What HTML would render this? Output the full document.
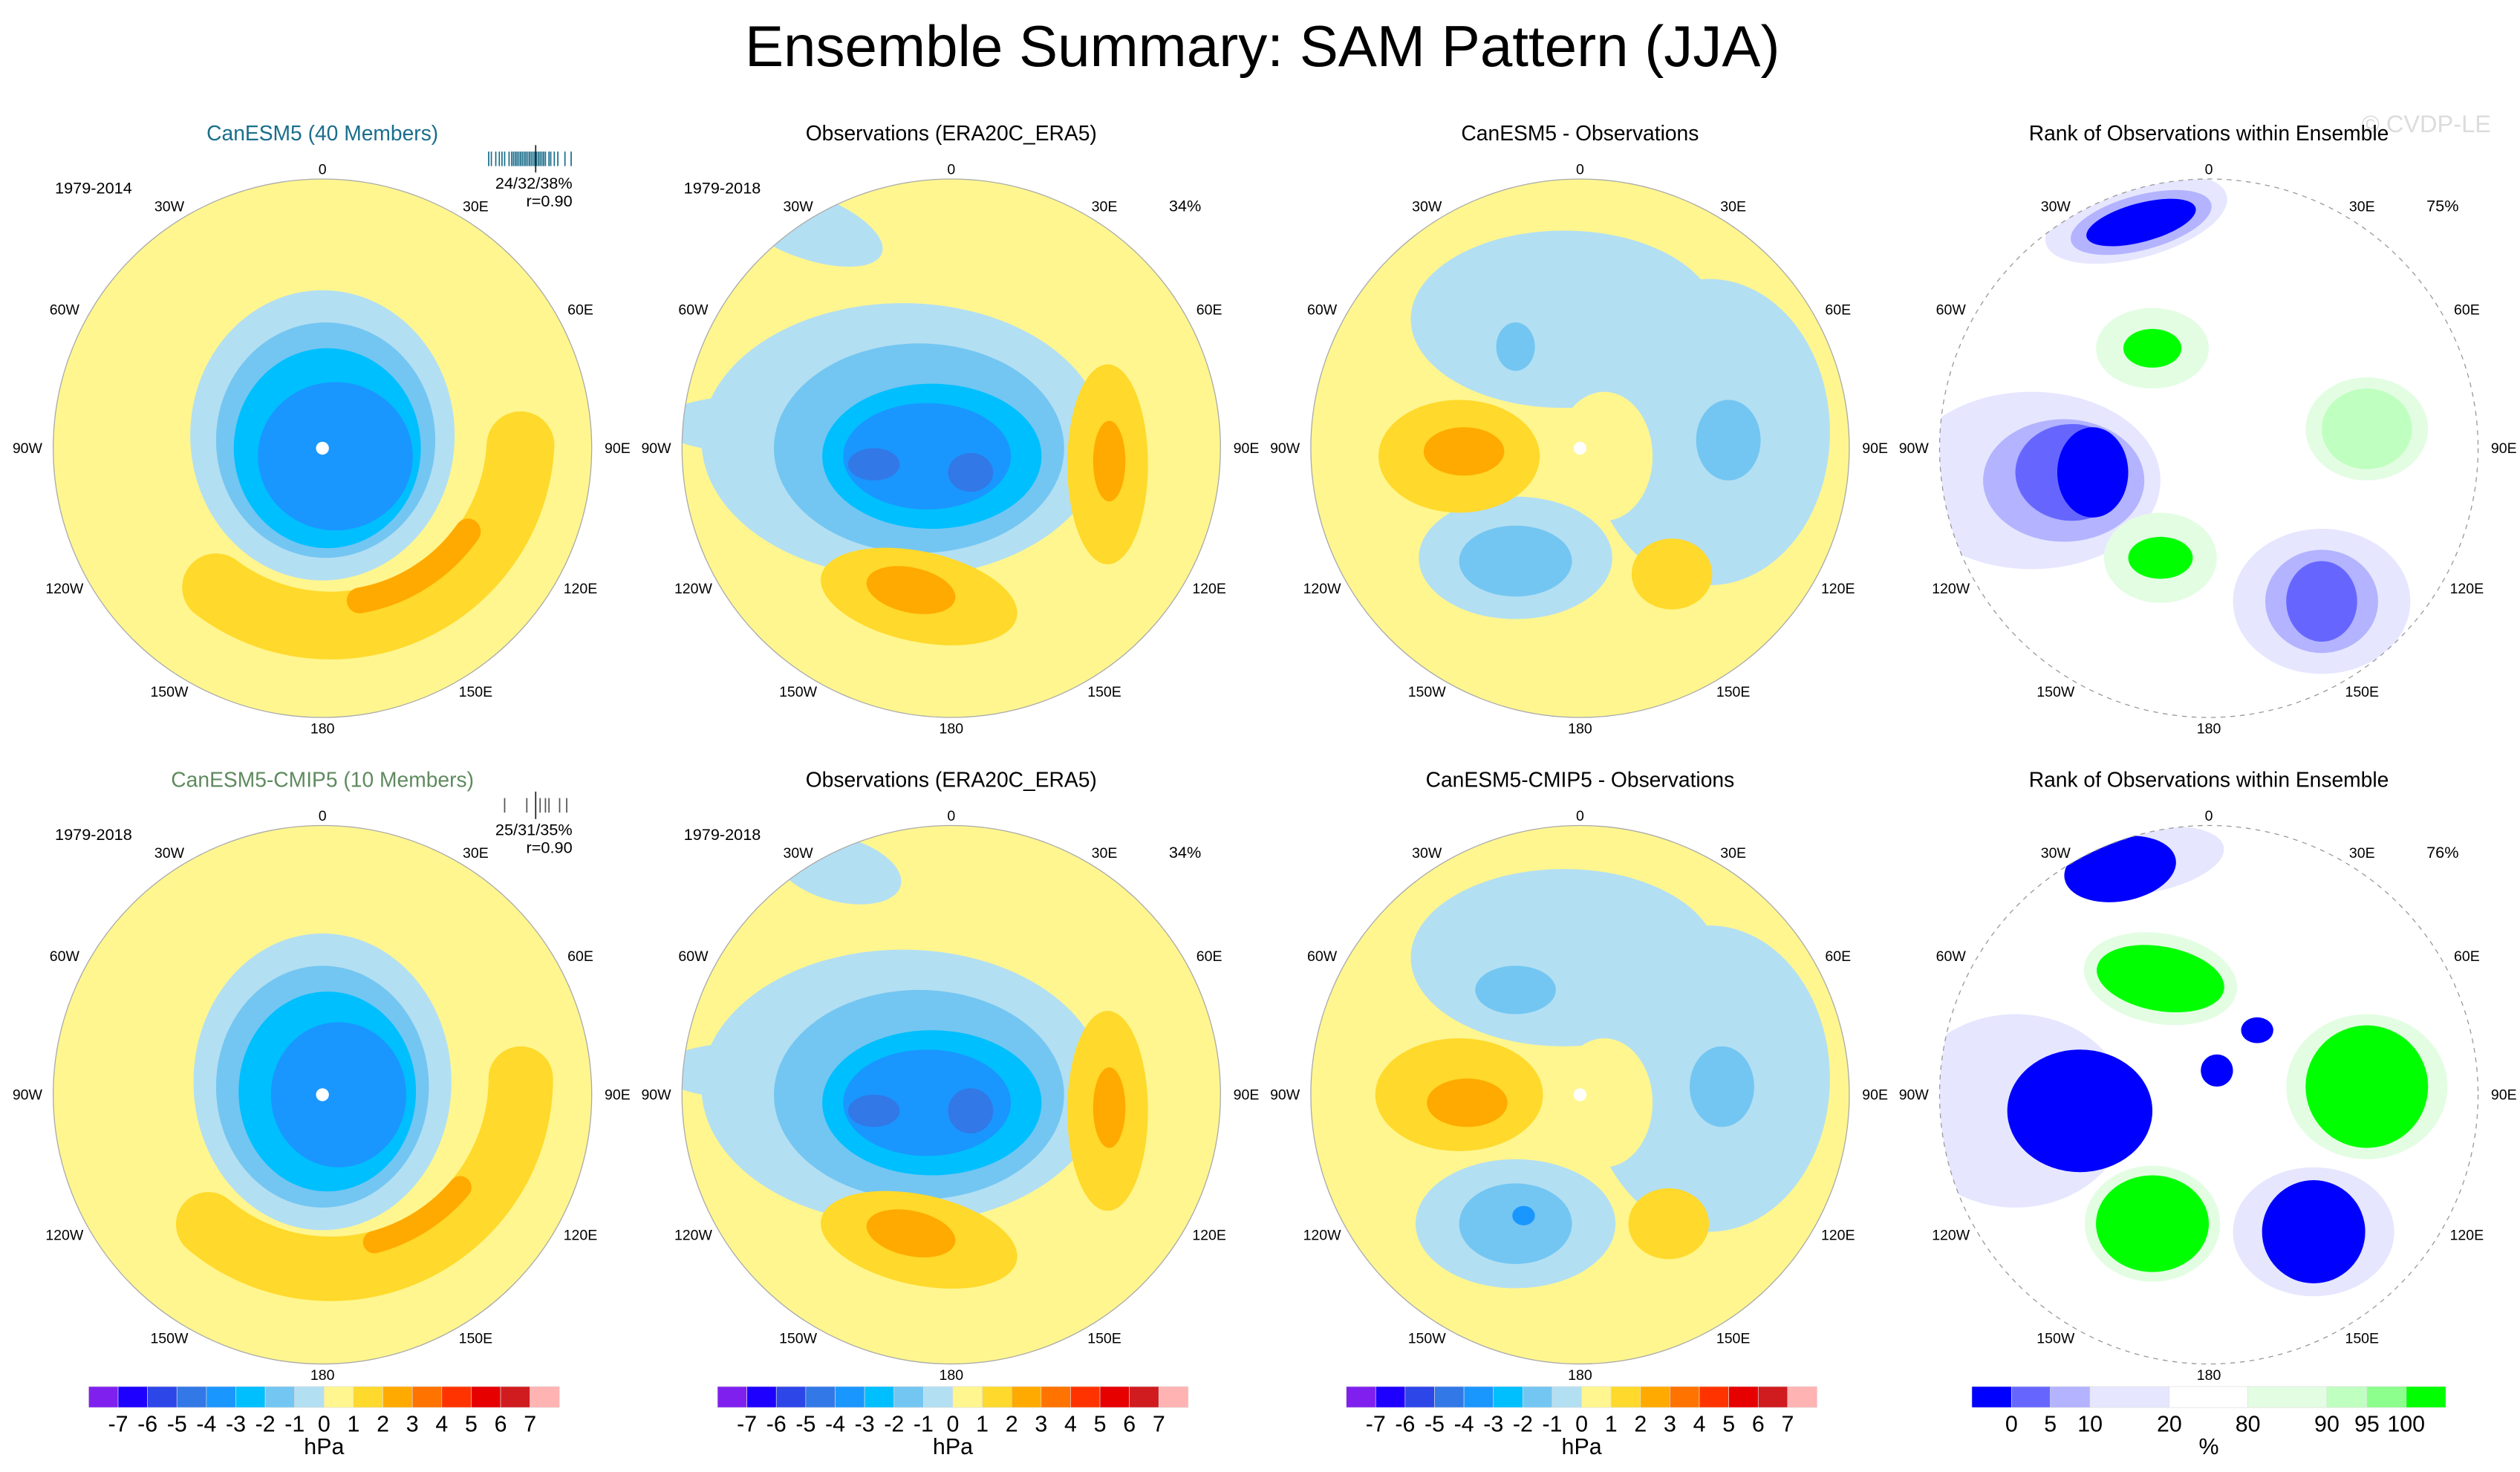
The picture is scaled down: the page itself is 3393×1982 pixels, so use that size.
<!DOCTYPE html>
<html><head><meta charset="utf-8"><style>
html,body{margin:0;padding:0;background:#fff}
svg{display:block}
text{font-family:"Liberation Sans",sans-serif}
</style></head><body>
<svg id="fig" xmlns="http://www.w3.org/2000/svg" width="3393" height="1982" viewBox="0 0 1563 913">
<text x="783" y="41" font-size="36" text-anchor="middle">Ensemble Summary: SAM Pattern (JJA)</text>
<text x="1545" y="82" font-size="15" text-anchor="end" fill="#dcdcdc">© CVDP-LE</text>
<g id="panels"></g>
<g id="bars"></g>
</svg>
<script>
const NS="http://www.w3.org/2000/svg";
const panelCenters=[[200,278],[590,278],[980,278],[1370,278],[200,679],[590,679],[980,679],[1370,679]];
const panelTitles=["CanESM5 (40 Members)","Observations (ERA20C_ERA5)","CanESM5 - Observations","Rank of Observations within Ensemble","CanESM5-CMIP5 (10 Members)","Observations (ERA20C_ERA5)","CanESM5-CMIP5 - Observations","Rank of Observations within Ensemble"];
const titleColors=["#1a6e8c","#000","#000","#000","#5f8a5f","#000","#000","#000"];
const periodLabels=["1979-2014","1979-2018","","","1979-2018","1979-2018","",""];
const pctLabels=["","34%","","75%","","34%","","76%"];
const lonLabels=["0","30E","60E","90E","120E","150E","180","150W","120W","90W","60W","30W"];
const lonOffX=[0,95,160,183,160,95,0,-95,-160,-183,-160,-95];
const lonOffY=[-173,-150,-86,0,87,151,174,151,87,0,-86,-150];
const hpaColors=["#8020ef","#1e00ff","#2d46e8","#3278e6","#1a96ff","#00bfff","#73c6f1","#b3dff3","#fff68f","#ffd92b","#ffaa00","#ff7300","#ff3300","#e60000","#d01c1f","#ffb3b3"];
const hpaTicks=["-7","-6","-5","-4","-3","-2","-1","0","1","2","3","4","5","6","7"];
const rankColors=["#0000ff","#6666ff","#b3b3ff","#e6e6ff","#ffffff","#e3fde3","#bfffbf","#8cff8c","#00ff00"];
const rankBounds=[0,105,208,313,523,731,940,1046,1150,1255];
const rankTicks=["0","5","10","20","80","90","95","100"];
const levelColor={"-5":"#3278e6","-4":"#1a96ff","-3":"#00bfff","-2":"#73c6f1","-1":"#b3dff3","0":"#fff68f","1":"#ffd92b","2":"#ffaa00"};
const rankLevelColor={"-4":"#0000ff","-3":"#6666ff","-2":"#b3b3ff","-1":"#e6e6ff","1":"#e3fde3","2":"#bfffbf","3":"#8cff8c","4":"#00ff00"};
const field1=[["arc",1,5,-8,118,3,127,42],["arc",2,5,-8,104,35,80,16],[-1,0,-8,82,90,0],[-2,2,-5,68,73,0],[-3,3,0,58,62,0],[-4,8,5,48,46,0]];
const field2=[[-1,-90,-138,50,20,20],[-1,-30,-5,125,85,0],[-1,-120,-15,62,18,0],[-2,-20,0,90,65,0],[-3,-12,5,68,45,0],[-4,-15,5,52,33,0],[-5,-48,10,16,10,0],[-5,12,15,14,12,0],[1,97,10,25,62,0],[2,98,8,10,25,0],[1,-20,92,62,28,12],[2,-25,88,28,14,12]];
const field3=[[-1,-10,-80,95,55,0],[-1,80,-10,75,95,0],[-1,-40,68,60,38,0],[0,15,5,30,40,0],[-2,-40,-63,12,15,0],[-2,92,-5,20,25,0],[-2,-40,70,35,22,0],[1,-75,5,50,35,0],[2,-72,2,25,15,0],[1,57,78,25,22,0]];
const rank1=[[-1,-45,-142,58,24,-15],[-2,-42,-140,45,17,-15],[-4,-42,-140,35,12,-15],[-1,-110,20,80,55,0],[-2,-90,20,50,38,0],[-3,-85,15,35,30,0],[-4,-72,15,22,28,0],[1,-35,-62,35,25,0],[4,-35,-62,18,12,0],[1,98,-12,38,32,0],[2,98,-12,28,25,0],[1,-30,68,35,28,0],[4,-30,68,20,13,0],[-1,70,95,55,45,0],[-2,70,95,35,32,0],[-3,70,95,22,25,0]];
const field5=[["arc",1,5,-10,118,0,130,40],["arc",2,5,-10,105,40,75,14],[-1,0,-8,80,92,0],[-2,0,-5,66,75,0],[-3,3,-2,55,62,0],[-4,10,0,42,45,0]];
const field6=[[-1,-70,-140,40,20,15],[-1,-30,-5,125,85,0],[-1,-120,-15,62,18,0],[-2,-20,0,90,65,0],[-3,-12,5,68,45,0],[-4,-15,5,52,33,0],[-5,-48,10,16,10,0],[-5,12,10,14,14,0],[1,97,10,25,62,0],[2,98,8,10,25,0],[1,-20,90,62,28,12],[2,-25,86,28,14,12]];
const field7=[[-1,-10,-85,95,55,0],[-1,80,-10,75,95,0],[-1,-40,80,62,40,0],[0,15,5,30,40,0],[-2,-40,-65,25,15,0],[-2,88,-5,20,25,0],[-2,-40,80,35,25,0],[-4,-35,75,7,6,0],[1,-75,0,52,35,0],[2,-70,5,25,15,0],[1,55,80,25,22,0]];
const rank2=[[-1,-40,-145,50,20,-10],[-4,-55,-140,35,20,-10],[1,-30,-72,48,28,10],[4,-30,-72,40,20,10],[-1,-120,10,70,60,0],[-4,-80,10,45,38,0],[1,98,-5,50,45,0],[4,98,-5,38,38,0],[1,-35,80,42,36,0],[4,-35,80,35,30,0],[-1,65,85,50,40,0],[-4,65,85,32,32,0],[-4,5,-15,10,10,0],[-4,30,-40,10,8,0]];
const fields=[field1,field2,field3,rank1,field5,field6,field7,rank2];
const R=167;
function mk(tag,attrs,parent){const e=document.createElementNS(NS,tag);for(const k in attrs)e.setAttribute(k,attrs[k]);parent.appendChild(e);return e;}
const panelsG=document.getElementById('panels');
panelCenters.forEach((c,i)=>{
  const [cx,cy]=c;const isRank=(i%4===3);
  const g=mk('g',{},panelsG);
  
  
  const cp=mk('clipPath',{id:'clip'+i},g);
  mk('circle',{cx:cx,cy:cy,r:R},cp);
  const bg=mk('circle',{cx:cx,cy:cy,r:R,fill:isRank?'#fff':'#fff68f'},g);
  
  
  const fg=mk('g',{'clip-path':'url(#clip'+i+')'},g);
  fields[i].forEach(f=>{
    let el;
    if(f[0]==="arc"){
      const [,lv,dx,dy,r,a0,a1,w]=f;const x0=cx+dx,y0=cy+dy;
      const p0=[x0+r*Math.cos(a0*Math.PI/180),y0+r*Math.sin(a0*Math.PI/180)];
      const p1=[x0+r*Math.cos(a1*Math.PI/180),y0+r*Math.sin(a1*Math.PI/180)];
      el=mk('path',{d:`M${p0[0]},${p0[1]} A${r},${r} 0 ${(a1-a0)>180?1:0} 1 ${p1[0]},${p1[1]}`,fill:'none',stroke:levelColor[lv],'stroke-width':w,'stroke-linecap':'round'},fg);
    } else {
      const [lv,dx,dy,rx,ry,rot]=f;
      el=mk('ellipse',{cx:cx+dx,cy:cy+dy,rx:rx,ry:ry,transform:`rotate(${rot} ${cx+dx} ${cy+dy})`,fill:isRank?rankLevelColor[lv]:levelColor[lv]},fg);
    }
    
    
  });
  if(i%4!==3 && i%4!==1){const d=mk('circle',{cx:cx,cy:cy,r:4,fill:'#fff'},g);
    
    }
  const ol=mk('circle',{cx:cx,cy:cy,r:R,fill:'none',stroke:isRank?'#999':'#aaa','stroke-width':0.6,'stroke-dasharray':isRank?'3 3':'none'},g);
  
  
  lonLabels.forEach((l,k)=>{
    const t=mk('text',{x:cx+lonOffX[k],y:cy+lonOffY[k]+3,'font-size':9,'text-anchor':'middle'},g);
    t.textContent=l;
    
    
  });
  const tt=mk('text',{x:cx,y:cy-191,'font-size':13,'text-anchor':'middle',fill:titleColors[i]},g);
  tt.textContent=panelTitles[i];
  
  
  if(periodLabels[i]){const p=mk('text',{x:cx-142,y:cy-158,'font-size':10,'text-anchor':'middle'},g);p.textContent=periodLabels[i];
    
    }
  if(pctLabels[i]){const p=mk('text',{x:cx+145,y:cy-147,'font-size':10,'text-anchor':'middle'},g);p.textContent=pctLabels[i];
    
    }
});
const rugVals1=[0.02,0.05,0.1,0.14,0.17,0.2,0.25,0.28,0.3,0.32,0.34,0.36,0.38,0.4,0.42,0.44,0.46,0.48,0.5,0.52,0.54,0.56,0.58,0.6,0.62,0.64,0.66,0.7,0.72,0.76,0.8,0.88,0.95];
const rugVals2=[0.2,0.45,0.6,0.66,0.7,0.82,0.9];
const statLabels=[["24/32/38%","r=0.90"],["25/31/35%","r=0.90"]];
[[rugVals1,278,"#1a6e8c"],[rugVals2,679,"#555"]].forEach((rg,j)=>{
  const g=mk('g',{},panelsG);
  
  
  const y=rg[1]-180;
  rg[0].forEach(v=>{const l=mk('line',{x1:302+v*55,x2:302+v*55,y1:y-4,y2:y+5,stroke:rg[2],'stroke-width':0.8},g);
    
    });
  const m=mk('line',{x1:302+0.55*55,x2:302+0.55*55,y1:y-8,y2:y+9,stroke:'#222','stroke-width':0.8},g);
  
  
  statLabels[j].forEach((s,k)=>{const t=mk('text',{x:355,y:y+19+k*11,'font-size':10,'text-anchor':'end'},g);t.textContent=s;
    
    });
});
const barsG=document.getElementById('bars');
[55,445,835].forEach((x0,j)=>{
  const g=mk('g',{},barsG);
  
  
  const w=292/hpaColors.length;
  hpaColors.forEach((c,k)=>{const r=mk('rect',{x:x0+k*w,y:860,width:w,height:13,fill:c,stroke:'#ddd','stroke-width':0.3},g);
    
    });
  hpaTicks.forEach((t,k)=>{const e=mk('text',{x:x0+(k+1)*w,y:888,'font-size':14,'text-anchor':'middle'},g);e.textContent=t;
    
    });
  const u=mk('text',{x:x0+146,y:902,'font-size':14,'text-anchor':'middle'},g);u.textContent='hPa';
  
  
});
{
  const g=mk('g',{},barsG);
  
  
  const x0=1223,sc=294/1255;
  rankColors.forEach((c,k)=>{const r=mk('rect',{x:x0+rankBounds[k]*sc,y:860,width:(rankBounds[k+1]-rankBounds[k])*sc,height:13,fill:c,stroke:'#ddd','stroke-width':0.3},g);
    
    });
  rankTicks.forEach((t,k)=>{const e=mk('text',{x:x0+rankBounds[k+1]*sc,y:888,'font-size':14,'text-anchor':'middle'},g);e.textContent=t;
    
    });
  const u=mk('text',{x:1370,y:902,'font-size':14,'text-anchor':'middle'},g);u.textContent='%';
  
  
}
</script>
</body></html>
